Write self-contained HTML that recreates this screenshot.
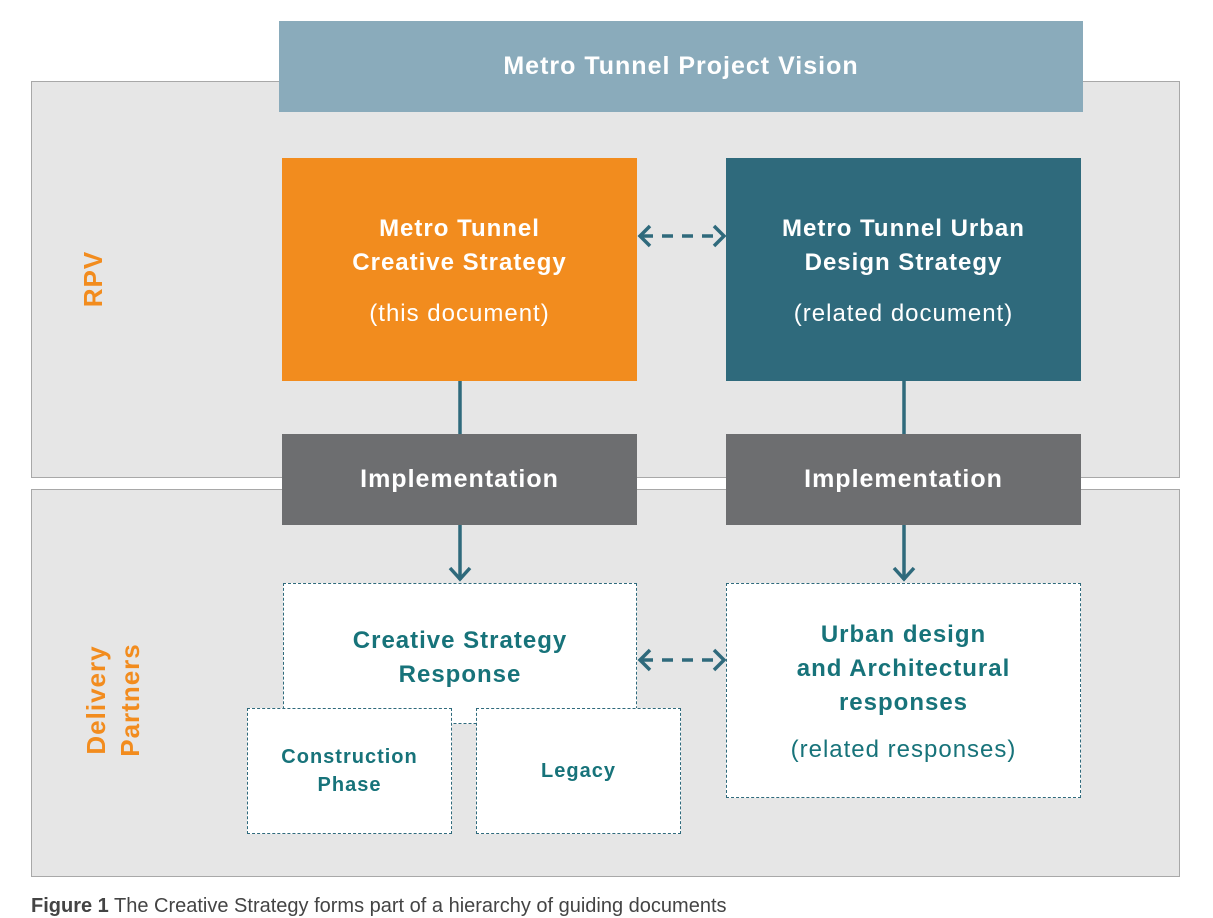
<!DOCTYPE html>
<html><head><meta charset="utf-8"><style>
*{margin:0;padding:0;box-sizing:border-box}
body{width:1213px;height:905px;background:#fff;position:relative;overflow:hidden;font-family:"Liberation Sans","DejaVu Sans",sans-serif}
.a{position:absolute}
.panel{background:#e6e6e6;border:1px solid #a8a8a8}
.c{display:flex;flex-direction:column;align-items:center;justify-content:center;text-align:center}
.b{font-weight:bold;letter-spacing:1px}
.dash{border:1.3px dashed #2f6a7c;background:#fff;color:#17737a}
.side{color:#f28c1e;font-weight:bold;font-size:26px;letter-spacing:1px;transform:rotate(-90deg);transform-origin:center;text-align:center;line-height:34px}
</style></head><body>
<div class="a panel" style="left:31px;top:81px;width:1149px;height:397px"></div>
<div class="a panel" style="left:31px;top:489px;width:1149px;height:388px"></div>
<div class="a c b" style="left:279px;top:21px;width:804px;height:91px;background:#8aabbb;color:#fff;font-size:25px">Metro Tunnel Project Vision</div>
<div class="a c" style="left:282px;top:158px;width:355px;height:223px;background:#f28c1e;color:#fff;font-size:24px">
<div class="b" style="line-height:34px">Metro Tunnel<br>Creative Strategy</div><div style="margin-top:20px;letter-spacing:1px">(this document)</div></div>
<div class="a c" style="left:726px;top:158px;width:355px;height:223px;background:#2f6a7c;color:#fff;font-size:24px">
<div class="b" style="line-height:34px">Metro Tunnel Urban<br>Design Strategy</div><div style="margin-top:20px;letter-spacing:1px">(related document)</div></div>
<div class="a c b" style="left:282px;top:434px;width:355px;height:91px;background:#6d6e70;color:#fff;font-size:25px">Implementation</div>
<div class="a c b" style="left:726px;top:434px;width:355px;height:91px;background:#6d6e70;color:#fff;font-size:25px">Implementation</div>
<div class="a c dash" style="left:283px;top:583px;width:354px;height:141px;justify-content:flex-start;padding-top:40px"><div class="b" style="font-size:24px;line-height:34px">Creative Strategy<br>Response</div></div>
<div class="a c dash" style="left:247px;top:708px;width:205px;height:126px"><div class="b" style="font-size:20px;line-height:28px">Construction<br>Phase</div></div>
<div class="a c dash" style="left:476px;top:708px;width:205px;height:126px"><div class="b" style="font-size:20px">Legacy</div></div>
<div class="a c dash" style="left:726px;top:583px;width:355px;height:215px;font-size:24px"><div class="b" style="line-height:34px">Urban design<br>and Architectural<br>responses</div><div style="margin-top:16px;letter-spacing:1px">(related responses)</div></div>
<div class="a side" style="left:43px;top:262px;width:100px;height:34px">RPV</div>
<div class="a side" style="left:8px;top:666px;width:210px;height:68px">Delivery<br>Partners</div>
<svg class="a" style="left:0;top:0" width="1213" height="905">
<g stroke="#2f6a7c" stroke-width="3.5" fill="none">
<line x1="460" y1="381" x2="460" y2="434"/><line x1="904" y1="381" x2="904" y2="434"/>
<line x1="460" y1="525" x2="460" y2="580"/><polyline points="450,568 460,579 470,568"/>
<line x1="904" y1="525" x2="904" y2="580"/><polyline points="894,568 904,579 914,568"/>
<line x1="642" y1="236" x2="722" y2="236" stroke-dasharray="11,9"/>
<polyline points="650,226 640,236 650,246"/><polyline points="714,226 724,236 714,246"/>
<line x1="642" y1="660" x2="722" y2="660" stroke-dasharray="11,9"/>
<polyline points="650,650 640,660 650,670"/><polyline points="714,650 724,660 714,670"/>
</g></svg>
<div class="a" style="left:31px;top:895px;font-size:20px;color:#444;white-space:nowrap"><b>Figure 1</b> The Creative Strategy forms part of a hierarchy of guiding documents</div>
</body></html>
